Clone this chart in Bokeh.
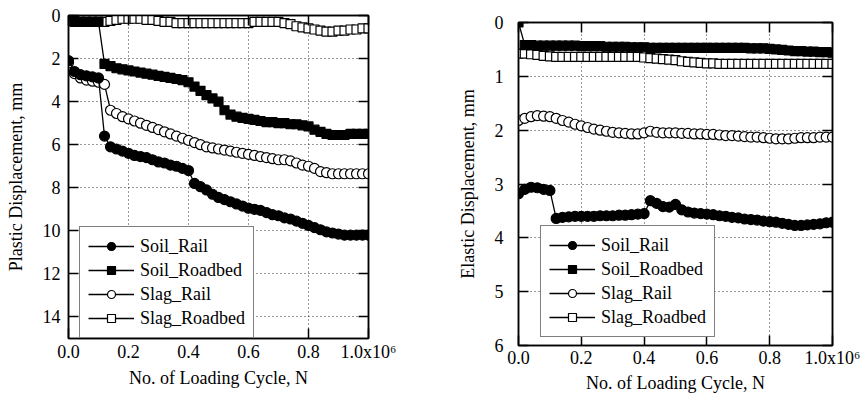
from bokeh.plotting import figure
from bokeh.models import (Range1d, FixedTicker, LinearAxis, Legend, LegendItem,
                          CustomJSTickFormatter)
from bokeh.layouts import row
from bokeh.embed import file_html
from bokeh.resources import INLINE

# ---------------- data ----------------
N_CYCLES = [0.00, 0.02, 0.04, 0.06, 0.08, 0.10, 0.12, 0.14, 0.16, 0.18,
            0.20, 0.22, 0.24, 0.26, 0.28, 0.30, 0.32, 0.34, 0.36, 0.38,
            0.40, 0.42, 0.44, 0.46, 0.48, 0.50, 0.52, 0.54, 0.56, 0.58,
            0.60, 0.62, 0.64, 0.66, 0.68, 0.70, 0.72, 0.74, 0.76, 0.78,
            0.80, 0.82, 0.84, 0.86, 0.88, 0.90, 0.92, 0.94, 0.96, 0.98,
            1.00]

SERIES_NAMES = ["Soil_Rail", "Soil_Roadbed", "Slag_Rail", "Slag_Roadbed"]

plastic_soil_rail = [2.1, 2.6, 2.75, 2.8, 2.85, 2.9, 5.6, 6.1, 6.2, 6.3,
                     6.4, 6.5, 6.55, 6.6, 6.7, 6.8, 6.85, 6.95, 7.0, 7.1,
                     7.2, 7.8, 7.95, 8.1, 8.3, 8.45, 8.55, 8.65, 8.75, 8.85,
                     8.95, 9.0, 9.05, 9.15, 9.25, 9.3, 9.4, 9.45, 9.55, 9.65,
                     9.75, 9.85, 9.95, 10.05, 10.1, 10.15, 10.2, 10.2, 10.2, 10.2,
                     10.2]
plastic_soil_roadbed = [0.0, 0.25, 0.3, 0.3, 0.3, 0.3, 2.25, 2.35, 2.45, 2.5,
                        2.55, 2.6, 2.65, 2.7, 2.75, 2.8, 2.85, 2.9, 2.95, 3.0,
                        3.1, 3.3, 3.5, 3.7, 3.85, 4.0, 4.4, 4.6, 4.7, 4.75,
                        4.8, 4.85, 4.9, 4.95, 4.95, 5.0, 5.0, 5.05, 5.05, 5.1,
                        5.15, 5.3, 5.4, 5.5, 5.55, 5.55, 5.55, 5.5, 5.5, 5.5,
                        5.5]
plastic_slag_rail = [2.2, 2.7, 2.9, 3.0, 3.05, 3.1, 3.2, 4.4, 4.55, 4.7,
                     4.8, 4.9, 5.0, 5.1, 5.2, 5.3, 5.4, 5.5, 5.6, 5.7,
                     5.8, 5.9, 6.0, 6.1, 6.15, 6.2, 6.25, 6.3, 6.35, 6.4,
                     6.45, 6.5, 6.55, 6.6, 6.65, 6.7, 6.7, 6.75, 6.85, 6.95,
                     7.0, 7.1, 7.25, 7.3, 7.35, 7.35, 7.35, 7.35, 7.35, 7.35,
                     7.35]
plastic_slag_roadbed = [0.25, 0.3, 0.3, 0.3, 0.3, 0.3, 0.3, 0.25, 0.2, 0.15,
                        0.15, 0.15, 0.15, 0.2, 0.2, 0.25, 0.3, 0.3, 0.35, 0.35,
                        0.35, 0.35, 0.35, 0.35, 0.35, 0.35, 0.35, 0.35, 0.35, 0.35,
                        0.35, 0.3, 0.3, 0.3, 0.3, 0.3, 0.35, 0.4, 0.5, 0.55,
                        0.6, 0.65, 0.7, 0.75, 0.75, 0.7, 0.7, 0.65, 0.65, 0.6,
                        0.6]

elastic_soil_rail = [3.18, 3.1, 3.06, 3.07, 3.1, 3.12, 3.64, 3.62, 3.61, 3.6,
                     3.6, 3.6, 3.6, 3.59, 3.59, 3.59, 3.58, 3.58, 3.57, 3.56,
                     3.55, 3.31, 3.36, 3.42, 3.43, 3.38, 3.48, 3.52, 3.54, 3.55,
                     3.56, 3.57, 3.59, 3.6, 3.62, 3.63, 3.65, 3.66, 3.67, 3.69,
                     3.7, 3.71, 3.73, 3.75, 3.77, 3.77, 3.76, 3.75, 3.74, 3.72,
                     3.71]
elastic_soil_roadbed = [0.0, 0.42, 0.42, 0.43, 0.43, 0.43, 0.43, 0.43, 0.43, 0.43,
                        0.44, 0.44, 0.44, 0.44, 0.45, 0.45, 0.45, 0.45, 0.46, 0.46,
                        0.46, 0.47, 0.47, 0.47, 0.47, 0.47, 0.47, 0.47, 0.47, 0.47,
                        0.47, 0.47, 0.47, 0.47, 0.47, 0.47, 0.47, 0.48, 0.48, 0.48,
                        0.49, 0.5, 0.51, 0.52, 0.53, 0.53, 0.54, 0.54, 0.55, 0.55,
                        0.56]
elastic_slag_rail = [1.82, 1.78, 1.75, 1.73, 1.74, 1.75, 1.78, 1.82, 1.85, 1.89,
                     1.92, 1.95, 1.98, 2.0, 2.02, 2.04, 2.05, 2.06, 2.07, 2.07,
                     2.05, 2.02, 2.04, 2.05, 2.05, 2.05, 2.06, 2.06, 2.07, 2.07,
                     2.08, 2.08, 2.09, 2.1, 2.1, 2.11, 2.12, 2.13, 2.13, 2.14,
                     2.15, 2.16, 2.16, 2.16, 2.15, 2.14, 2.14, 2.14, 2.13, 2.13,
                     2.13]
elastic_slag_roadbed = [0.58, 0.58, 0.59, 0.6, 0.62, 0.63, 0.64, 0.64, 0.64, 0.64,
                        0.64, 0.64, 0.64, 0.64, 0.64, 0.64, 0.64, 0.64, 0.64, 0.64,
                        0.65, 0.66, 0.67, 0.68, 0.69, 0.7, 0.72, 0.73, 0.74, 0.75,
                        0.76, 0.76, 0.77, 0.77, 0.77, 0.77, 0.77, 0.77, 0.77, 0.77,
                        0.77, 0.77, 0.77, 0.77, 0.77, 0.77, 0.77, 0.77, 0.77, 0.77,
                        0.77]

X_TICKS = [0.0, 0.2, 0.4, 0.6, 0.8, 1.0]
X_TICK_LABELS = ["0.0", "0.2", "0.4", "0.6", "0.8", "1.0x10\u2076"]
X_TITLE = "No. of Loading Cycle, N"
PLASTIC_TICKS = [0, 2, 4, 6, 8, 10, 12, 14]
ELASTIC_TICKS = [0, 1, 2, 3, 4, 5, 6]

FONT = "Liberation Serif"

# marker styles (soil = filled, slag = open)
STYLES = [("circle", "black", 10), ("square", "black", 9),
          ("circle", "white", 10), ("square", "white", 9)]


def style_axis(ax, size="18px"):
    ax.major_label_text_font = FONT
    ax.major_label_text_font_size = size
    ax.major_label_text_color = "black"
    ax.axis_label_text_font = FONT
    ax.axis_label_text_font_size = "18px"
    ax.axis_label_text_font_style = "normal"
    ax.axis_label_text_color = "black"
    ax.axis_line_color = "black"
    ax.axis_line_width = 1.5
    ax.major_tick_in = 10
    ax.major_tick_out = 0
    ax.major_tick_line_color = "black"
    ax.major_tick_line_width = 1.5
    ax.minor_tick_line_color = None


def build(series, y_end, y_ticks, y_title, width, height, top_margin,
          border_left, border_right, border_top, frame_h, legend_loc,
          x_std, x_title_std, y_std, y_title_std):
    p = figure(width=width, height=height, output_backend="svg",
               toolbar_location=None, title=None,
               x_range=Range1d(0.0, 1.0), y_range=Range1d(y_end, 0),
               min_border_left=border_left, min_border_right=border_right,
               min_border_top=border_top,
               min_border_bottom=height - border_top - frame_h)
    p.margin = (top_margin, 0, 0, 0)
    p.outline_line_color = "black"
    p.outline_line_width = 1.5
    p.background_fill_color = "white"
    p.border_fill_color = "white"

    xt = FixedTicker(ticks=X_TICKS)
    yt = FixedTicker(ticks=y_ticks)
    p.xaxis.ticker = xt
    p.yaxis.ticker = yt
    p.xaxis.major_label_overrides = dict(zip(X_TICKS, X_TICK_LABELS))
    p.xaxis.axis_label = X_TITLE
    p.yaxis.axis_label = y_title
    for ax in p.xaxis:
        style_axis(ax)
        ax.major_label_standoff = x_std
        ax.axis_label_standoff = x_title_std
    for ax in p.yaxis:
        style_axis(ax)
        ax.major_label_standoff = y_std
        ax.axis_label_standoff = y_title_std

    blank = CustomJSTickFormatter(code="return ''")
    top = LinearAxis(ticker=FixedTicker(ticks=X_TICKS), formatter=blank)
    right = LinearAxis(ticker=FixedTicker(ticks=y_ticks), formatter=blank)
    for ax in (top, right):
        style_axis(ax, size="1px")
        ax.major_label_standoff = 0
    p.add_layout(top, "above")
    p.add_layout(right, "right")

    p.xgrid.ticker = xt
    p.ygrid.ticker = yt
    for g in (p.xgrid[0], p.ygrid[0]):
        g.grid_line_color = "black"
        g.grid_line_alpha = 0.8
        g.grid_line_width = 1
        g.grid_line_dash = "1 3"

    order = [2, 3, 0, 1]  # draw open (slag) markers first, soil on top
    rend = {}
    for i in order:
        marker, fill, size = STYLES[i]
        ys = series[i]
        ln = p.line(N_CYCLES, ys, line_color="black", line_width=1.3)
        sc = p.scatter(N_CYCLES, ys, marker=marker, size=size,
                       fill_color=fill, line_color="black", line_width=1.2)
        rend[i] = [ln, sc]
    items = [LegendItem(label=name, renderers=rend[i])
             for i, name in enumerate(SERIES_NAMES)]

    leg = Legend(items=items, location=legend_loc)
    leg.label_text_font = FONT
    leg.label_text_font_size = "18px"
    leg.label_text_color = "black"
    leg.border_line_color = "black"
    leg.border_line_width = 1.5
    leg.background_fill_color = "white"
    leg.background_fill_alpha = 1.0
    leg.glyph_width = 46
    leg.glyph_height = 20
    leg.label_height = 22
    leg.label_standoff = 6
    leg.spacing = 2
    leg.padding = 8
    leg.margin = 0
    p.add_layout(leg)
    return p


p1 = build([plastic_soil_rail, plastic_soil_roadbed,
            plastic_slag_rail, plastic_slag_roadbed],
           15, PLASTIC_TICKS, "Plastic Displacement, mm",
           width=438, height=393, top_margin=0,
           border_left=68, border_right=70,
           border_top=15, frame_h=323, legend_loc=(11, 0),
           x_std=3, x_title_std=3, y_std=8, y_title_std=14)
p2 = build([elastic_soil_rail, elastic_soil_roadbed,
            elastic_slag_rail, elastic_slag_roadbed],
           6, ELASTIC_TICKS, "Elastic Displacement, mm",
           width=428, height=393, top_margin=7,
           border_left=80, border_right=34,
           border_top=15, frame_h=323, legend_loc=(22, 8),
           x_std=2, x_title_std=2, y_std=15, y_title_std=14)

layout = row(p1, p2)
open("out.html", "w").write(file_html(layout, INLINE))
